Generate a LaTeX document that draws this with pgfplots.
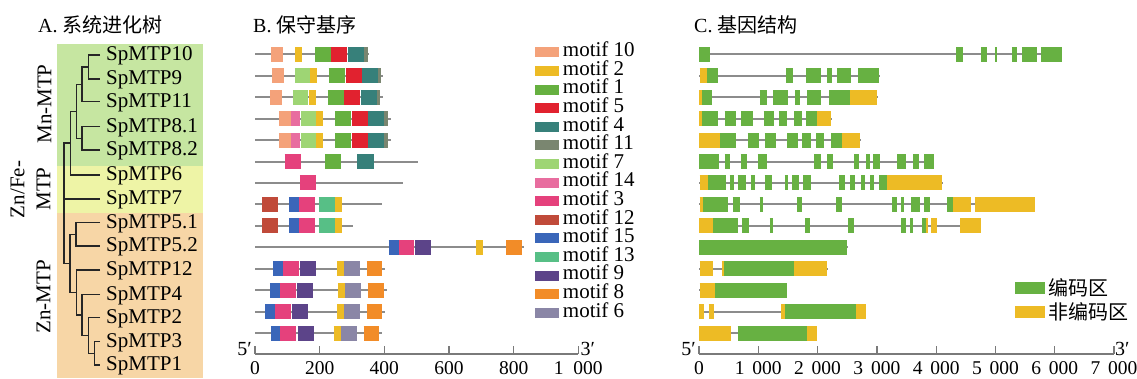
\documentclass[border=0pt]{standalone}
\usepackage{pgfplots}
\pgfplotsset{compat=1.18}
\usepackage{fontspec}
\setmainfont{Liberation Serif}
\newfontfamily\cjk{Noto Sans CJK SC}
\newcommand\fs[1]{\fontsize{#1}{#1}\selectfont}
\definecolor{mA}{HTML}{F4A27A}% motif 10
\definecolor{mB}{HTML}{EDBB25}% motif 2
\definecolor{mC}{HTML}{66B040}% motif 1
\definecolor{mD}{HTML}{E1222F}% motif 5
\definecolor{mE}{HTML}{37807A}% motif 4
\definecolor{mF}{HTML}{7A8670}% motif 11
\definecolor{mG}{HTML}{9ED574}% motif 7
\definecolor{mH}{HTML}{E86D9F}% motif 14
\definecolor{mI}{HTML}{E5417C}% motif 3
\definecolor{mJ}{HTML}{C04A3A}% motif 12
\definecolor{mK}{HTML}{3A66B9}% motif 15
\definecolor{mL}{HTML}{57BF86}% motif 13
\definecolor{mM}{HTML}{5C4489}% motif 9
\definecolor{mN}{HTML}{F28C28}% motif 8
\definecolor{mO}{HTML}{8A86A6}% motif 6
\definecolor{exon}{HTML}{67B142}
\definecolor{utr}{HTML}{EDBB25}
\definecolor{bgG}{HTML}{C6E6A1}
\definecolor{bgY}{HTML}{EEF4A6}
\definecolor{bgO}{HTML}{F7D6A6}
\definecolor{axgray}{HTML}{7A7A7A}
\definecolor{bbgray}{HTML}{8C8C8C}
\pgfplotsset{
  seg/.style={line width=15pt, color=#1, mark=none},
  bb/.style={line width=2pt, color=bbgray, mark=none, forget plot},
}
\begin{document}
\begin{tikzpicture}
\useasboundingbox (0,0) rectangle (1137pt,379pt);
% ---------------- A: background bands ----------------
\begin{axis}[at={(0pt,0pt)}, anchor=south west, scale only axis,
  width=100pt, height=379pt, xmin=0, xmax=100, ymin=0, ymax=379,
  clip=false, hide axis]
\addplot[fill=bgG, draw=none] coordinates {(57,335)(203,335)(203,213)(57,213)} -- cycle;
\addplot[fill=bgY, draw=none] coordinates {(57,213)(203,213)(203,166.3)(57,166.3)} -- cycle;
\addplot[fill=bgO, draw=none] coordinates {(57,166.3)(203,166.3)(203,1)(57,1)} -- cycle;
\end{axis}
% ---------------- A: tree ----------------
\begin{axis}[at={(0pt,0pt)}, anchor=south west, scale only axis,
  width=100pt, height=379pt, xmin=0, xmax=100, ymin=0, ymax=379,
  clip=false, axis on top, axis line style={draw=none}, xtick=\empty,
  ytick={14,37.3,61.3,84.7,109,133,156.3,180,204,229,252.3,277.3,300,324},
  yticklabels={SpMTP1,SpMTP3,SpMTP2,SpMTP4,SpMTP12,SpMTP5.2,SpMTP5.1,SpMTP7,SpMTP6,SpMTP8.2,SpMTP8.1,SpMTP11,SpMTP9,SpMTP10},
  yticklabel pos=right, ytick pos=right, major tick length=0pt,
  yticklabel style={anchor=west, inner sep=0pt, xshift=6pt, yshift=-1pt, font=\fs{21}},
  unbounded coords=jump]
\addplot[line width=1.5pt, color=black!85, mark=none] coordinates {
(100,324)(88.3,324)(88.3,300)(100,300) (0,nan)
(88.3,312)(82,312)(82,277.3)(100,277.3) (0,nan)
(100,252.3)(82,252.3)(82,229)(100,229) (0,nan)
(82,294.7)(76.3,294.7)(76.3,240.7)(82,240.7) (0,nan)
(76.3,267.7)(70.7,267.7)(70.7,204)(100,204) (0,nan)
(70.7,235.8)(64,235.8)(64,115.6)(70,115.6) (0,nan)
(64,180)(100,180) (0,nan)
(76,144.7)(70,144.7)(70,86.5)(76.7,86.5) (0,nan)
(100,156.3)(76,156.3)(76,133)(100,133) (0,nan)
(100,109)(76.7,109)(76.7,64.1)(82,64.1) (0,nan)
(100,84.7)(82,84.7)(82,43.5)(88.3,43.5) (0,nan)
(100,61.3)(88.3,61.3)(88.3,25.7)(94.3,25.7) (0,nan)
(100,37.3)(94.3,37.3)(94.3,14)(100,14)
};
\node[rotate=90, font=\fs{21}] at (axis cs:44.5,275) {Mn-MTP};
\node[rotate=90, font=\fs{21}] at (axis cs:17.5,189.5) {Zn/Fe-};
\node[rotate=90, font=\fs{21}] at (axis cs:43.5,190) {MTP};
\node[rotate=90, font=\fs{21}] at (axis cs:43.5,82) {Zn-MTP};
\node[anchor=west, inner sep=0pt, font=\fs{20}] at (axis cs:38,354) {A. {\cjk 系统进化树}};
\node[anchor=west, inner sep=0pt, font=\fs{20}] at (axis cs:253,354) {B. {\cjk 保守基序}};
\node[anchor=west, inner sep=0pt, font=\fs{20}] at (axis cs:694,354) {C. {\cjk 基因结构}};
\end{axis}
% ---------------- B: motifs ----------------
\begin{axis}[at={(255pt,25pt)}, anchor=south west, scale only axis,
  width=323.3pt, height=312.8pt, xmin=0, xmax=1000, ymin=0.04, ymax=14.6,
  clip=false, axis x line=bottom, axis y line=none,
  x axis line style={-, draw=axgray, line width=1.5pt},
  xtick={0,200,400,600,800,1000},
  xticklabels={0,200,400,600,800,1\hspace{0.5em}000},
  xtick style={draw=axgray, line width=1.3pt}, major tick length=8pt, tick align=inside,
  xticklabel style={font=\fs{19.5}, yshift=-4pt},
  unbounded coords=jump,
  legend image code/.code={\fill[#1, draw=none] (0pt,-5pt) rectangle (24pt,5pt);},
  legend style={at={(axis cs:866,14.51)}, anchor=north west, draw=none, fill=none,
    inner sep=0pt, outer sep=0pt, row sep=0pt, column sep=4pt, font=\fs{21},
    nodes={inner sep=0pt, text height=13.6pt, text depth=5pt}},
  legend cell align=left]
\addplot[bb] coordinates {
(0,14)(354,14)(0,nan)(0,13)(397,13)(0,nan)(0,12)(395,12)(0,nan)(0,11)(422,11)(0,nan)
(0,10)(422,10)(0,nan)(0,9)(503,9)(0,nan)(0,8)(459,8)(0,nan)(0,7)(393,7)(0,nan)
(0,6)(303,6)(0,nan)(0,5)(832,5)(0,nan)(0,4)(401,4)(0,nan)(0,3)(409,3)(0,nan)
(0,2)(403,2)(0,nan)(0,1)(393,1)};
\addplot[seg=mA] coordinates {(49,14)(86,14)(0,nan)(52,13)(89,13)(0,nan)(46,12)(83,12)(0,nan)(74,11)(111,11)(0,nan)(74,10)(111,10)};
\addlegendentry{motif 10}
\addplot[seg=mB] coordinates {(123,14)(145,14)(0,nan)(169,13)(191,13)(0,nan)(166,12)(188,12)(0,nan)(188,11)(210,11)(0,nan)(188,10)(210,10)(0,nan)
(247,7)(268,7)(0,nan)(247,6)(268,6)(0,nan)(684,5)(706,5)(0,nan)(253,4)(274,4)(0,nan)(256,3)(277,3)(0,nan)(253,2)(274,2)(0,nan)(243,1)(265,1)};
\addlegendentry{motif 2}
\addplot[seg=mC] coordinates {(185,14)(234,14)(0,nan)(228,13)(277,13)(0,nan)(225,12)(274,12)(0,nan)(247,11)(296,11)(0,nan)(247,10)(296,10)(0,nan)(216,9)(265,9)};
\addlegendentry{motif 1}
\addplot[seg=mD] coordinates {(234,14)(284,14)(0,nan)(280,13)(330,13)(0,nan)(274,12)(324,12)(0,nan)(299,11)(348,11)(0,nan)(299,10)(348,10)};
\addlegendentry{motif 5}
\addplot[seg=mE] coordinates {(287,14)(336,14)(0,nan)(330,13)(379,13)(0,nan)(327,12)(376,12)(0,nan)(348,11)(398,11)(0,nan)(348,10)(398,10)(0,nan)(317,9)(367,9)};
\addlegendentry{motif 4}
\addplot[seg=mF] coordinates {(336,14)(348,14)(0,nan)(379,13)(391,13)(0,nan)(376,12)(388,12)(0,nan)(398,11)(410,11)(0,nan)(398,10)(410,10)};
\addlegendentry{motif 11}
\addplot[seg=mG] coordinates {(123,13)(169,13)(0,nan)(117,12)(163,12)(0,nan)(142,11)(188,11)(0,nan)(142,10)(188,10)};
\addlegendentry{motif 7}
\addplot[seg=mH] coordinates {(111,11)(139,11)(0,nan)(111,10)(139,10)};
\addlegendentry{motif 14}
\addplot[seg=mI] coordinates {(92,9)(142,9)(0,nan)(139,8)(188,8)(0,nan)(136,7)(185,7)(0,nan)(136,6)(185,6)(0,nan)(444,5)(493,5)(0,nan)
(86,4)(136,4)(0,nan)(77,3)(126,3)(0,nan)(62,2)(111,2)(0,nan)(77,1)(126,1)};
\addlegendentry{motif 3}
\addplot[seg=mJ] coordinates {(22,7)(71,7)(0,nan)(22,6)(71,6)};
\addlegendentry{motif 12}
\addplot[seg=mK] coordinates {(105,7)(136,7)(0,nan)(105,6)(136,6)(0,nan)(413,5)(444,5)(0,nan)(55,4)(86,4)(0,nan)(46,3)(77,3)(0,nan)(31,2)(62,2)(0,nan)(49,1)(77,1)};
\addlegendentry{motif 15}
\addplot[seg=mL] coordinates {(197,7)(247,7)(0,nan)(197,6)(247,6)};
\addlegendentry{motif 13}
\addplot[seg=mM] coordinates {(496,5)(545,5)(0,nan)(139,4)(188,4)(0,nan)(129,3)(179,3)(0,nan)(114,2)(163,2)(0,nan)(132,1)(182,1)};
\addlegendentry{motif 9}
\addplot[seg=mN] coordinates {(777,5)(826,5)(0,nan)(345,4)(394,4)(0,nan)(348,3)(398,3)(0,nan)(345,2)(394,2)(0,nan)(336,1)(385,1)};
\addlegendentry{motif 8}
\addplot[seg=mO] coordinates {(274,4)(324,4)(0,nan)(277,3)(327,3)(0,nan)(274,2)(324,2)(0,nan)(265,1)(315,1)};
\addlegendentry{motif 6}
\node[anchor=base east, inner sep=0pt, font=\fs{20}] at (axis cs:0,0.04) [xshift=-3pt, yshift=-2pt] {5′};
\node[anchor=base west, inner sep=0pt, font=\fs{20}] at (axis cs:1000,0.04) [xshift=2pt, yshift=-2pt] {3′};
\end{axis}
% ---------------- C: gene structure ----------------
\begin{axis}[at={(699pt,25pt)}, anchor=south west, scale only axis,
  width=415pt, height=312.8pt, xmin=0, xmax=7000, ymin=0.04, ymax=14.6,
  clip=false, axis x line=bottom, axis y line=none,
  x axis line style={-, draw=axgray, line width=1.5pt},
  xtick={0,1000,2000,3000,4000,5000,6000,7000},
  xticklabels={0,1\hspace{0.4em}000,2\hspace{0.4em}000,3\hspace{0.4em}000,4\hspace{0.4em}000,5\hspace{0.4em}000,6\hspace{0.4em}000,7\hspace{0.4em}000},
  xtick style={draw=axgray, line width=1.3pt}, major tick length=8pt, tick align=inside,
  xticklabel style={font=\fs{19.5}, yshift=-4pt},
  unbounded coords=jump,
  legend image code/.code={\fill[#1, draw=none] (0pt,-6pt) rectangle (30pt,6pt);},
  legend style={at={(axis cs:5330,3.68)}, anchor=north west, draw=none, fill=none,
    inner sep=0pt, outer sep=0pt, row sep=0pt, column sep=3pt, font=\cjk\fs{20},
    nodes={inner sep=0pt, text height=19.75pt, text depth=4.55pt}},
  legend cell align=left]
\addplot[bb] coordinates {
(0,14)(6131,14)(0,nan)(0,13)(3046,13)(0,nan)(0,12)(3018,12)(0,nan)(0,11)(2244,11)(0,nan)
(0,10)(2732,10)(0,nan)(0,9)(3966,9)(0,nan)(0,8)(4111,8)(0,nan)(0,7)(5671,7)(0,nan)
(0,6)(4403,6)(0,nan)(0,5)(2513,5)(0,nan)(0,4)(2176,4)(0,nan)(0,3)(1492,3)(0,nan)
(0,2)(2821,2)(0,nan)(0,1)(1997,1)};
\addplot[seg=exon] coordinates {
(0,14)(179,14)(0,nan)(4336,14)(4454,14)(0,nan)(4756,14)(4857,14)(0,nan)(4992,14)(5026,14)(0,nan)(5278,14)(5362,14)(0,nan)(5446,14)(5699,14)(0,nan)(5766,14)(6119,14)(0,nan)
(129,13)(314,13)(0,nan)(1475,13)(1593,13)(0,nan)(1812,13)(2064,13)(0,nan)(2165,13)(2249,13)(0,nan)(2333,13)(2569,13)(0,nan)(2687,13)(3040,13)(0,nan)
(45,12)(213,12)(0,nan)(1021,12)(1139,12)(0,nan)(1256,12)(1509,12)(0,nan)(1627,12)(1711,12)(0,nan)(1829,12)(2064,12)(0,nan)(2199,12)(2552,12)(0,nan)
(45,11)(314,11)(0,nan)(432,11)(617,11)(0,nan)(701,11)(903,11)(0,nan)(1088,11)(1273,11)(0,nan)(1341,11)(1492,11)(0,nan)(1610,11)(1744,11)(0,nan)(1812,11)(1997,11)(0,nan)
(348,10)(617,10)(0,nan)(819,10)(1004,10)(0,nan)(1105,10)(1307,10)(0,nan)(1492,10)(1677,10)(0,nan)(1744,10)(1896,10)(0,nan)(1980,10)(2115,10)(0,nan)(2232,10)(2417,10)(0,nan)
(0,9)(331,9)(0,nan)(432,9)(516,9)(0,nan)(701,9)(802,9)(0,nan)(987,9)(1155,9)(0,nan)(1946,9)(2064,9)(0,nan)(2165,9)(2266,9)(0,nan)(2619,9)(2704,9)(0,nan)(2821,9)(2889,9)(0,nan)(2939,9)(3057,9)(0,nan)(3343,9)(3494,9)(0,nan)(3612,9)(3713,9)(0,nan)(3797,9)(3966,9)(0,nan)
(146,8)(449,8)(0,nan)(516,8)(583,8)(0,nan)(650,8)(785,8)(0,nan)(869,8)(937,8)(0,nan)(1105,8)(1223,8)(0,nan)(1442,8)(1509,8)(0,nan)(1576,8)(1694,8)(0,nan)(1761,8)(1896,8)(0,nan)(2367,8)(2468,8)(0,nan)(2552,8)(2636,8)(0,nan)(2737,8)(2805,8)(0,nan)(2889,8)(2956,8)(0,nan)(3040,8)(3175,8)(0,nan)
(62,7)(482,7)(0,nan)(567,7)(684,7)(0,nan)(1021,7)(1071,7)(0,nan)(1660,7)(1744,7)(0,nan)(2317,7)(2417,7)(0,nan)(3259,7)(3343,7)(0,nan)(3410,7)(3461,7)(0,nan)(3579,7)(3730,7)(0,nan)(3797,7)(3898,7)(0,nan)(4184,7)(4285,7)(0,nan)
(230,6)(651,6)(0,nan)(718,6)(836,6)(0,nan)(1189,6)(1240,6)(0,nan)(1795,6)(1879,6)(0,nan)(2518,6)(2619,6)(0,nan)(3410,6)(3494,6)(0,nan)(3562,6)(3612,6)(0,nan)(3764,6)(3831,6)(0,nan)
(0,5)(2502,5)(0,nan)(415,4)(1610,4)(0,nan)(264,3)(1492,3)(0,nan)(1442,2)(2653,2)(0,nan)(651,1)(1828,1)};
\addlegendentry{编码区}
\addplot[seg=utr] coordinates {
(11,13)(129,13)(0,nan)(0,12)(45,12)(0,nan)(2552,12)(3006,12)(0,nan)(0,11)(45,11)(0,nan)(1997,11)(2232,11)(0,nan)
(0,10)(348,10)(0,nan)(2417,10)(2720,10)(0,nan)(11,8)(146,8)(0,nan)(3175,8)(4100,8)(0,nan)
(11,7)(62,7)(0,nan)(4285,7)(4588,7)(0,nan)(4655,7)(5665,7)(0,nan)
(0,6)(230,6)(0,nan)(3831,6)(3865,6)(0,nan)(3915,6)(4016,6)(0,nan)(4403,6)(4756,6)(0,nan)
(11,4)(230,4)(0,nan)(381,4)(415,4)(0,nan)(1610,4)(2165,4)(0,nan)(11,3)(264,3)(0,nan)
(0,2)(79,2)(0,nan)(163,2)(247,2)(0,nan)(1391,2)(1442,2)(0,nan)(2653,2)(2821,2)(0,nan)
(0,1)(533,1)(0,nan)(1828,1)(1997,1)};
\addlegendentry{非编码区}
\node[anchor=base east, inner sep=0pt, font=\fs{20}] at (axis cs:0,0.04) [xshift=-3pt, yshift=-2pt] {5′};
\node[anchor=base west, inner sep=0pt, font=\fs{20}] at (axis cs:7000,0.04) [xshift=1pt, yshift=-2pt] {3′};
\end{axis}
\end{tikzpicture}
\end{document}
